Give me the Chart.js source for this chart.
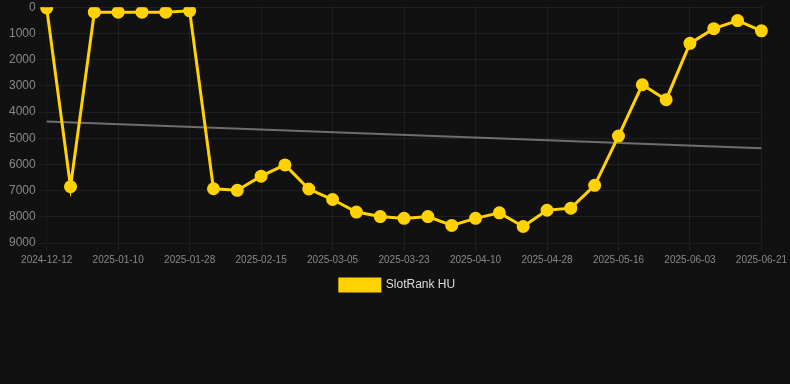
<!DOCTYPE html>
<html lang="en">
<head>
    <meta charset="UTF-8">
    <title>SlotRank HU</title>
    <script src="https://cdn.jsdelivr.net/npm/chart.js"></script>
    <style>
        html, body { margin: 0; padding: 0; background: #111111; overflow: hidden; }
        #wrap { width: 790px; height: 304px; position: relative; margin-top: -3px; }
    </style>
</head>
<body>
<div id="wrap"><canvas id="rankChart"></canvas></div>
<script>
    // Dates of each rank reading (category axis, every third one is labelled)
    const dates = [
        '2024-12-12', '2024-12-24', '2025-01-04', '2025-01-10', '2025-01-16', '2025-01-22',
        '2025-01-28', '2025-02-03', '2025-02-09', '2025-02-15', '2025-02-21', '2025-02-27',
        '2025-03-05', '2025-03-11', '2025-03-17', '2025-03-23', '2025-03-29', '2025-04-04',
        '2025-04-10', '2025-04-16', '2025-04-22', '2025-04-28', '2025-05-04', '2025-05-10',
        '2025-05-16', '2025-05-22', '2025-05-28', '2025-06-03', '2025-06-09', '2025-06-15',
        '2025-06-21'
    ];

    // Rank values (lower is better, axis is reversed)
    const ranks = [
        30, 6850, 190, 190, 190, 190,
        140, 6930, 6990, 6450, 6020, 6940,
        7340, 7820, 7990, 8060, 7990, 8330,
        8060, 7850, 8370, 7750, 7670, 6800,
        4920, 2960, 3530, 1380, 820, 510,
        900
    ];

    // Trend line end points
    const trendStart = 4360;
    const trendEnd = 5385;
    const trend = dates.map((d, i) => i === 0 ? trendStart : (i === dates.length - 1 ? trendEnd : null));

    const gridColor = 'rgba(255,255,255,0.06)';

    const ctx = document.getElementById('rankChart').getContext('2d');
    const rankChart = new Chart(ctx, {
        type: 'line',
        data: {
            labels: dates,
            datasets: [
                {
                    label: 'SlotRank HU',
                    data: ranks,
                    borderColor: '#ffd200',
                    backgroundColor: '#ffd200',
                    borderWidth: 3,
                    pointRadius: 5,
                    pointHoverRadius: 6,
                    tension: 0,
                    fill: false
                },
                {
                    label: 'trend',
                    data: trend,
                    borderColor: 'rgba(150, 150, 150, 0.7)',
                    borderWidth: 2,
                    pointRadius: 0,
                    spanGaps: true,
                    fill: false
                }
            ]
        },
        options: {
            responsive: true,
            maintainAspectRatio: false,
            animation: false,
            layout: { padding: { left: 6, right: 1, top: 0, bottom: 0 } },
            plugins: {
                legend: {
                    position: 'bottom',
                    labels: {
                        color: '#dddddd',
                        boxWidth: 40,
                        boxHeight: 12,
                        font: { family: 'Liberation Sans, Arial', size: 12 },
                        filter: item => item.text !== 'trend'
                    }
                },
                tooltip: { enabled: false }
            },
            scales: {
                x: {
                    grid: {
                        color: c => (c.index % 3 === 0 ? gridColor : 'rgba(0,0,0,0)')
                    },
                    ticks: {
                        color: '#888888',
                        autoSkip: false,
                        maxRotation: 0,
                        font: { family: 'Liberation Sans, Arial', size: 10 },
                        callback: function (value, index) {
                            return index % 3 === 0 ? this.getLabelForValue(value) : '';
                        }
                    }
                },
                y: {
                    reverse: true,
                    min: 0,
                    max: 9000,
                    grid: { color: gridColor },
                    ticks: {
                        stepSize: 1000,
                        color: '#888888',
                        font: { family: 'Liberation Sans, Arial', size: 12 },
                        callback: value => String(value)
                    }
                }
            }
        }
    });
</script>
</body>
</html>
